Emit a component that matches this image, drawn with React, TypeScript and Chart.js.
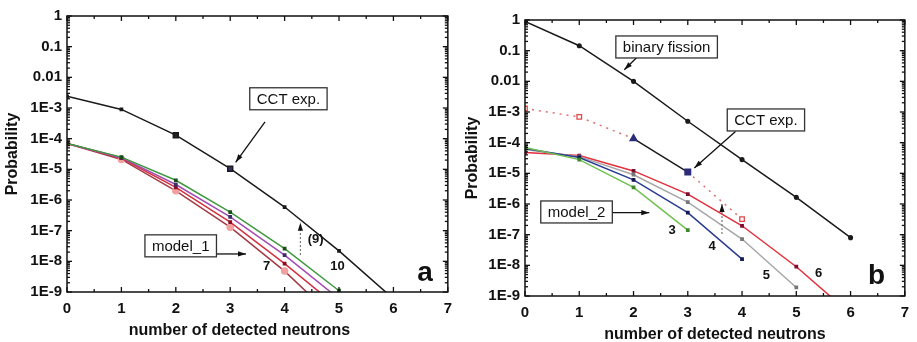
import React, { useEffect, useRef } from "react";
import { Chart, registerables } from "chart.js";

Chart.register(...registerables);

// ---------- DATA ----------
const xTicks = [0, 1, 2, 3, 4, 5, 6, 7];
const yTickValues = [1, 0.1, 0.01, 1e-3, 1e-4, 1e-5, 1e-6, 1e-7, 1e-8, 1e-9];
const yTickLabels = ["1", "0.1", "0.01", "1E-3", "1E-4", "1E-5", "1E-6", "1E-7", "1E-8", "1E-9"];

// Panel a
const nA = [0, 1, 2, 3, 4, 5, 6];
const cctA = [2.4e-3, 9e-4, 1.3e-4, 1.05e-5, 5.9e-7, 2.2e-8, 6e-10];
const model1_10 = [7e-5, 2.5e-5, 4.4e-6, 4.0e-7, 2.6e-8, 1.1e-9];
const model1_9 = [7e-5, 2.4e-5, 3.2e-6, 2.8e-7, 1.6e-8, 6e-10];
const model1_8 = [7e-5, 2.3e-5, 2.6e-6, 1.9e-7, 8.4e-9, 3e-10];
const model1_7 = [7e-5, 2.1e-5, 2.0e-6, 1.3e-7, 4.8e-9, 1e-10];

// Panel b
const nB = [0, 1, 2, 3, 4, 5, 6];
const binaryFission = [0.9, 0.145, 0.01, 5e-4, 2.8e-5, 1.65e-6, 8e-8];
const cctB = [1.3e-3, 6.9e-4, 1.35e-4, 1.1e-5, 3.2e-7];
const model2_3 = [7e-5, 2.8e-5, 3.5e-6, 1.4e-7];
const model2_4 = [6.5e-5, 3.3e-5, 6.1e-6, 5.2e-7, 1.6e-8];
const model2_5 = [6e-5, 3.5e-5, 9e-6, 1.15e-6, 7.2e-8, 1.9e-9];
const model2_6 = [4.8e-5, 3.8e-5, 1.2e-5, 2.1e-6, 1.95e-7, 9e-9, 2.6e-10];

const xTitle = "number of detected neutrons";
const yTitle = "Probability";

const FONT = "'Liberation Sans', Arial, Helvetica, sans-serif";

const pts = (xs: number[], ys: number[]) => ys.map((y, i) => ({ x: xs[i], y }));

// ---------- annotations (data coordinates) ----------
const annA = {
  boxes: [
    { x: 4.07, y: 2.0e-3, text: "CCT exp." },
    { x: 2.09, y: 3.2e-8, text: "model_1" },
  ],
  arrows: [
    { x1: 3.64, y1: 3.5e-4, x2: 3.1, y2: 1.7e-5, dotted: false },
    { x1: 2.75, y1: 1.74e-8, x2: 3.29, y2: 1.74e-8, dotted: false },
    { x1: 4.29, y1: 1.6e-8, x2: 4.29, y2: 1.8e-7, dotted: true },
  ],
  labels: [
    { x: 4.57, y: 5.0e-8, text: "(9)", size: 13 },
    { x: 4.97, y: 6.6e-9, text: "10", size: 13 },
    { x: 3.67, y: 6.6e-9, text: "7", size: 13 },
    { x: 6.58, y: 4.0e-9, text: "a", size: 28 },
  ],
  titleDx: -18,
};

const annB = {
  boxes: [
    { x: 2.61, y: 0.132, text: "binary fission" },
    { x: 4.44, y: 5.5e-4, text: "CCT exp." },
    { x: 0.95, y: 5.5e-7, text: "model_2" },
  ],
  arrows: [
    { x1: 2.07, y1: 0.062, x2: 1.83, y2: 0.024, dotted: false },
    { x1: 3.88, y1: 2.3e-4, x2: 3.12, y2: 1.5e-5, dotted: false },
    { x1: 1.61, y1: 5.2e-7, x2: 2.29, y2: 5.2e-7, dotted: false },
    { x1: 3.63, y1: 1.05e-7, x2: 3.63, y2: 1.0e-6, dotted: true },
  ],
  labels: [
    { x: 2.71, y: 1.35e-7, text: "3", size: 13 },
    { x: 3.45, y: 4.1e-8, text: "4", size: 13 },
    { x: 4.45, y: 4.6e-9, text: "5", size: 13 },
    { x: 5.41, y: 5.4e-9, text: "6", size: 13 },
    { x: 6.48, y: 4.3e-9, text: "b", size: 28 },
  ],
  titleDx: 0,
};

// ---------- plugin ----------
const decor = {
  id: "decor",
  afterDraw(chart: any, _args: any, opts: any) {
    const { ctx, chartArea: ca } = chart;
    const xs = chart.scales.x;
    const ys = chart.scales.y;
    ctx.save();
    ctx.strokeStyle = "#111";
    ctx.lineWidth = 1.5;
    ctx.strokeRect(ca.left, ca.top, ca.right - ca.left, ca.bottom - ca.top);
    const line = (a: number, b: number, c: number, d: number) => {
      ctx.beginPath();
      ctx.moveTo(a, b);
      ctx.lineTo(c, d);
      ctx.stroke();
    };
    ctx.lineWidth = 1.3;
    for (let v = xs.min; v <= xs.max + 1e-9; v += 0.5) {
      const px = xs.getPixelForValue(v);
      const len = Math.abs(v - Math.round(v)) < 1e-6 ? 5 : 3;
      line(px, ca.bottom, px, ca.bottom - len);
      line(px, ca.top, px, ca.top + len);
    }
    for (let e = -9; e <= 0; e++) {
      const base = Math.pow(10, e);
      const py = ys.getPixelForValue(base);
      line(ca.left, py, ca.left + 5, py);
      line(ca.right, py, ca.right - 5, py);
      if (e < 0) {
        for (let k = 2; k <= 9; k++) {
          const p = ys.getPixelForValue(k * base);
          line(ca.left, p, ca.left + 3, p);
          line(ca.right, p, ca.right - 3, p);
        }
      }
    }
    const a = opts.ann;
    // arrows
    for (const ar of a.arrows) {
      const x1 = xs.getPixelForValue(ar.x1), y1 = ys.getPixelForValue(ar.y1);
      const x2 = xs.getPixelForValue(ar.x2), y2 = ys.getPixelForValue(ar.y2);
      ctx.strokeStyle = ar.dotted ? "#777" : "#111";
      ctx.lineWidth = ar.dotted ? 1.2 : 1.3;
      ctx.setLineDash(ar.dotted ? [2, 2] : []);
      line(x1, y1, x2, y2);
      ctx.setLineDash([]);
      const ang = Math.atan2(y2 - y1, x2 - x1);
      const hl = 8, hw = 2.6;
      ctx.fillStyle = "#111";
      ctx.beginPath();
      ctx.moveTo(x2, y2);
      ctx.lineTo(x2 - hl * Math.cos(ang) + hw * Math.sin(ang), y2 - hl * Math.sin(ang) - hw * Math.cos(ang));
      ctx.lineTo(x2 - hl * Math.cos(ang) - hw * Math.sin(ang), y2 - hl * Math.sin(ang) + hw * Math.cos(ang));
      ctx.closePath();
      ctx.fill();
    }
    // boxes
    ctx.font = `15px ${FONT}`;
    ctx.textAlign = "center";
    ctx.textBaseline = "middle";
    for (const b of a.boxes) {
      const cx = xs.getPixelForValue(b.x), cy = ys.getPixelForValue(b.y);
      const w = ctx.measureText(b.text).width + 14;
      const h = 22;
      ctx.fillStyle = "#fff";
      ctx.fillRect(cx - w / 2, cy - h / 2, w, h);
      ctx.strokeStyle = "#333";
      ctx.lineWidth = 1.3;
      ctx.strokeRect(cx - w / 2, cy - h / 2, w, h);
      ctx.fillStyle = "#111";
      ctx.fillText(b.text, cx, cy + 1);
    }
    // labels
    for (const l of a.labels) {
      ctx.font = `bold ${l.size}px ${FONT}`;
      ctx.fillStyle = "#111";
      ctx.fillText(l.text, xs.getPixelForValue(l.x), ys.getPixelForValue(l.y));
    }
    // x title
    ctx.font = `bold 16px ${FONT}`;
    ctx.fillStyle = "#111";
    ctx.fillText(xTitle, (ca.left + ca.right) / 2 + a.titleDx, ca.bottom + 39);
    ctx.restore();
  },
};

function makeOptions(ann: any, yWidth: number, xHeight: number, top: number, right: number) {
  return {
    responsive: false,
    animation: false as const,
    layout: { padding: { top, right, left: 0, bottom: 0 } },
    plugins: { legend: { display: false }, tooltip: { enabled: false }, decor: { ann } },
    scales: {
      x: {
        type: "linear" as const,
        min: 0,
        max: 7,
        afterBuildTicks: (s: any) => {
          s.ticks = xTicks.map((v) => ({ value: v }));
        },
        afterFit: (s: any) => {
          s.height = xHeight;
        },
        grid: { display: false, drawTicks: false },
        border: { display: false },
        ticks: { padding: 8, color: "#111", font: { family: FONT, size: 15, weight: "bold" as const }, maxRotation: 0 },
      },
      y: {
        type: "logarithmic" as const,
        min: 1e-9,
        max: 1,
        afterBuildTicks: (s: any) => {
          s.ticks = yTickValues.map((v) => ({ value: v }));
        },
        afterFit: (s: any) => {
          s.width = yWidth;
        },
        grid: { display: false, drawTicks: false },
        border: { display: false },
        ticks: {
          padding: 5,
          color: "#111",
          font: { family: FONT, size: 15, weight: "bold" as const },
          callback: (_v: any, i: number) => yTickLabels[i],
        },
        title: {
          display: true,
          text: yTitle,
          color: "#111",
          font: { family: FONT, size: 16, weight: "bold" as const },
          padding: { top: 3, bottom: 0 },
        },
      },
    },
  };
}

function line(data: any, color: string, extra: any = {}) {
  return {
    data,
    borderColor: color,
    backgroundColor: color,
    borderWidth: 1.5,
    pointRadius: 1.6,
    pointStyle: "rect",
    tension: 0,
    ...extra,
  };
}

export default function App() {
  const refA = useRef<HTMLCanvasElement>(null);
  const refB = useRef<HTMLCanvasElement>(null);

  useEffect(() => {
    const chA = new Chart(refA.current as HTMLCanvasElement, {
      type: "line",
      data: {
        datasets: [
          line(pts(nA, cctA), "#1a1a1a", {
            pointRadius: [1.6, 1.6, 3.5, 3.5, 1.6, 1.6, 1.6],
            pointBackgroundColor: ["#111", "#111", "#222", "#3a2f6a", "#111", "#111", "#111"],
          }),
          line(pts(nA, model1_10), "#3f9a3f", { pointBackgroundColor: "#1d4d1d", pointBorderColor: "#1d4d1d" }),
          line(pts(nA, model1_9), "#a24cb4", { pointBackgroundColor: "#3a2f6a", pointBorderColor: "#3a2f6a" }),
          line(pts(nA, model1_8), "#d2313f", { pointBackgroundColor: "#8a1020", pointBorderColor: "#8a1020" }),
          line(pts(nA, model1_7), "#a33a44", {
            pointStyle: "circle",
            pointRadius: 3,
            pointBackgroundColor: "#f2a0a0",
            pointBorderColor: "#f2a0a0",
          }),
        ],
      },
      options: makeOptions(annA, 67, 50, 16, 8) as any,
      plugins: [decor],
    });

    const cctColorsB = ["#e04848", "#e04848", "#2c2c7a", "#2c2c7a", "#e04848"];
    const chB = new Chart(refB.current as HTMLCanvasElement, {
      type: "line",
      data: {
        datasets: [
          line(pts(nB, binaryFission), "#1a1a1a", { pointRadius: 1.8, pointStyle: "circle" }),
          line(pts(nB, cctB), "#e04848", {
            pointStyle: ["rect", "rect", "triangle", "rect", "rect"],
            pointRadius: [3.2, 3.2, 4, 4, 3.2],
            pointBorderWidth: 1.3,
            pointBackgroundColor: ["#fff", "#fff", "#2c2c7a", "#2c2c7a", "#fff"],
            pointBorderColor: cctColorsB,
            segment: {
              borderColor: (c: any) => (c.p0DataIndex === 2 ? "#1a1a1a" : "#e07070"),
              borderDash: (c: any) => (c.p0DataIndex === 2 ? [] : [2, 5]),
            },
          }),
          line(pts(nB, model2_3), "#72c052", { pointBackgroundColor: "#3c8a2c", pointBorderColor: "#3c8a2c" }),
          line(pts(nB, model2_4), "#2b3d92", { pointBackgroundColor: "#111a55", pointBorderColor: "#111a55" }),
          line(pts(nB, model2_5), "#a6a6a6", { pointBackgroundColor: "#777", pointBorderColor: "#777" }),
          line(pts(nB, model2_6), "#e2303c", { pointBackgroundColor: "#7a1030", pointBorderColor: "#7a1030" }),
        ],
      },
      options: makeOptions(annB, 65, 46, 20, 9) as any,
      plugins: [decor],
    });

    return () => {
      chA.destroy();
      chB.destroy();
    };
  }, []);

  return (
    <div style={{ position: "fixed", left: 0, top: 0, width: 917, height: 342, background: "#fff" }}>
      <canvas ref={refA} width={460} height={342} style={{ position: "absolute", left: 0, top: 0, width: 460, height: 342 }} />
      <canvas ref={refB} width={457} height={342} style={{ position: "absolute", left: 460, top: 0, width: 457, height: 342 }} />
    </div>
  );
}
